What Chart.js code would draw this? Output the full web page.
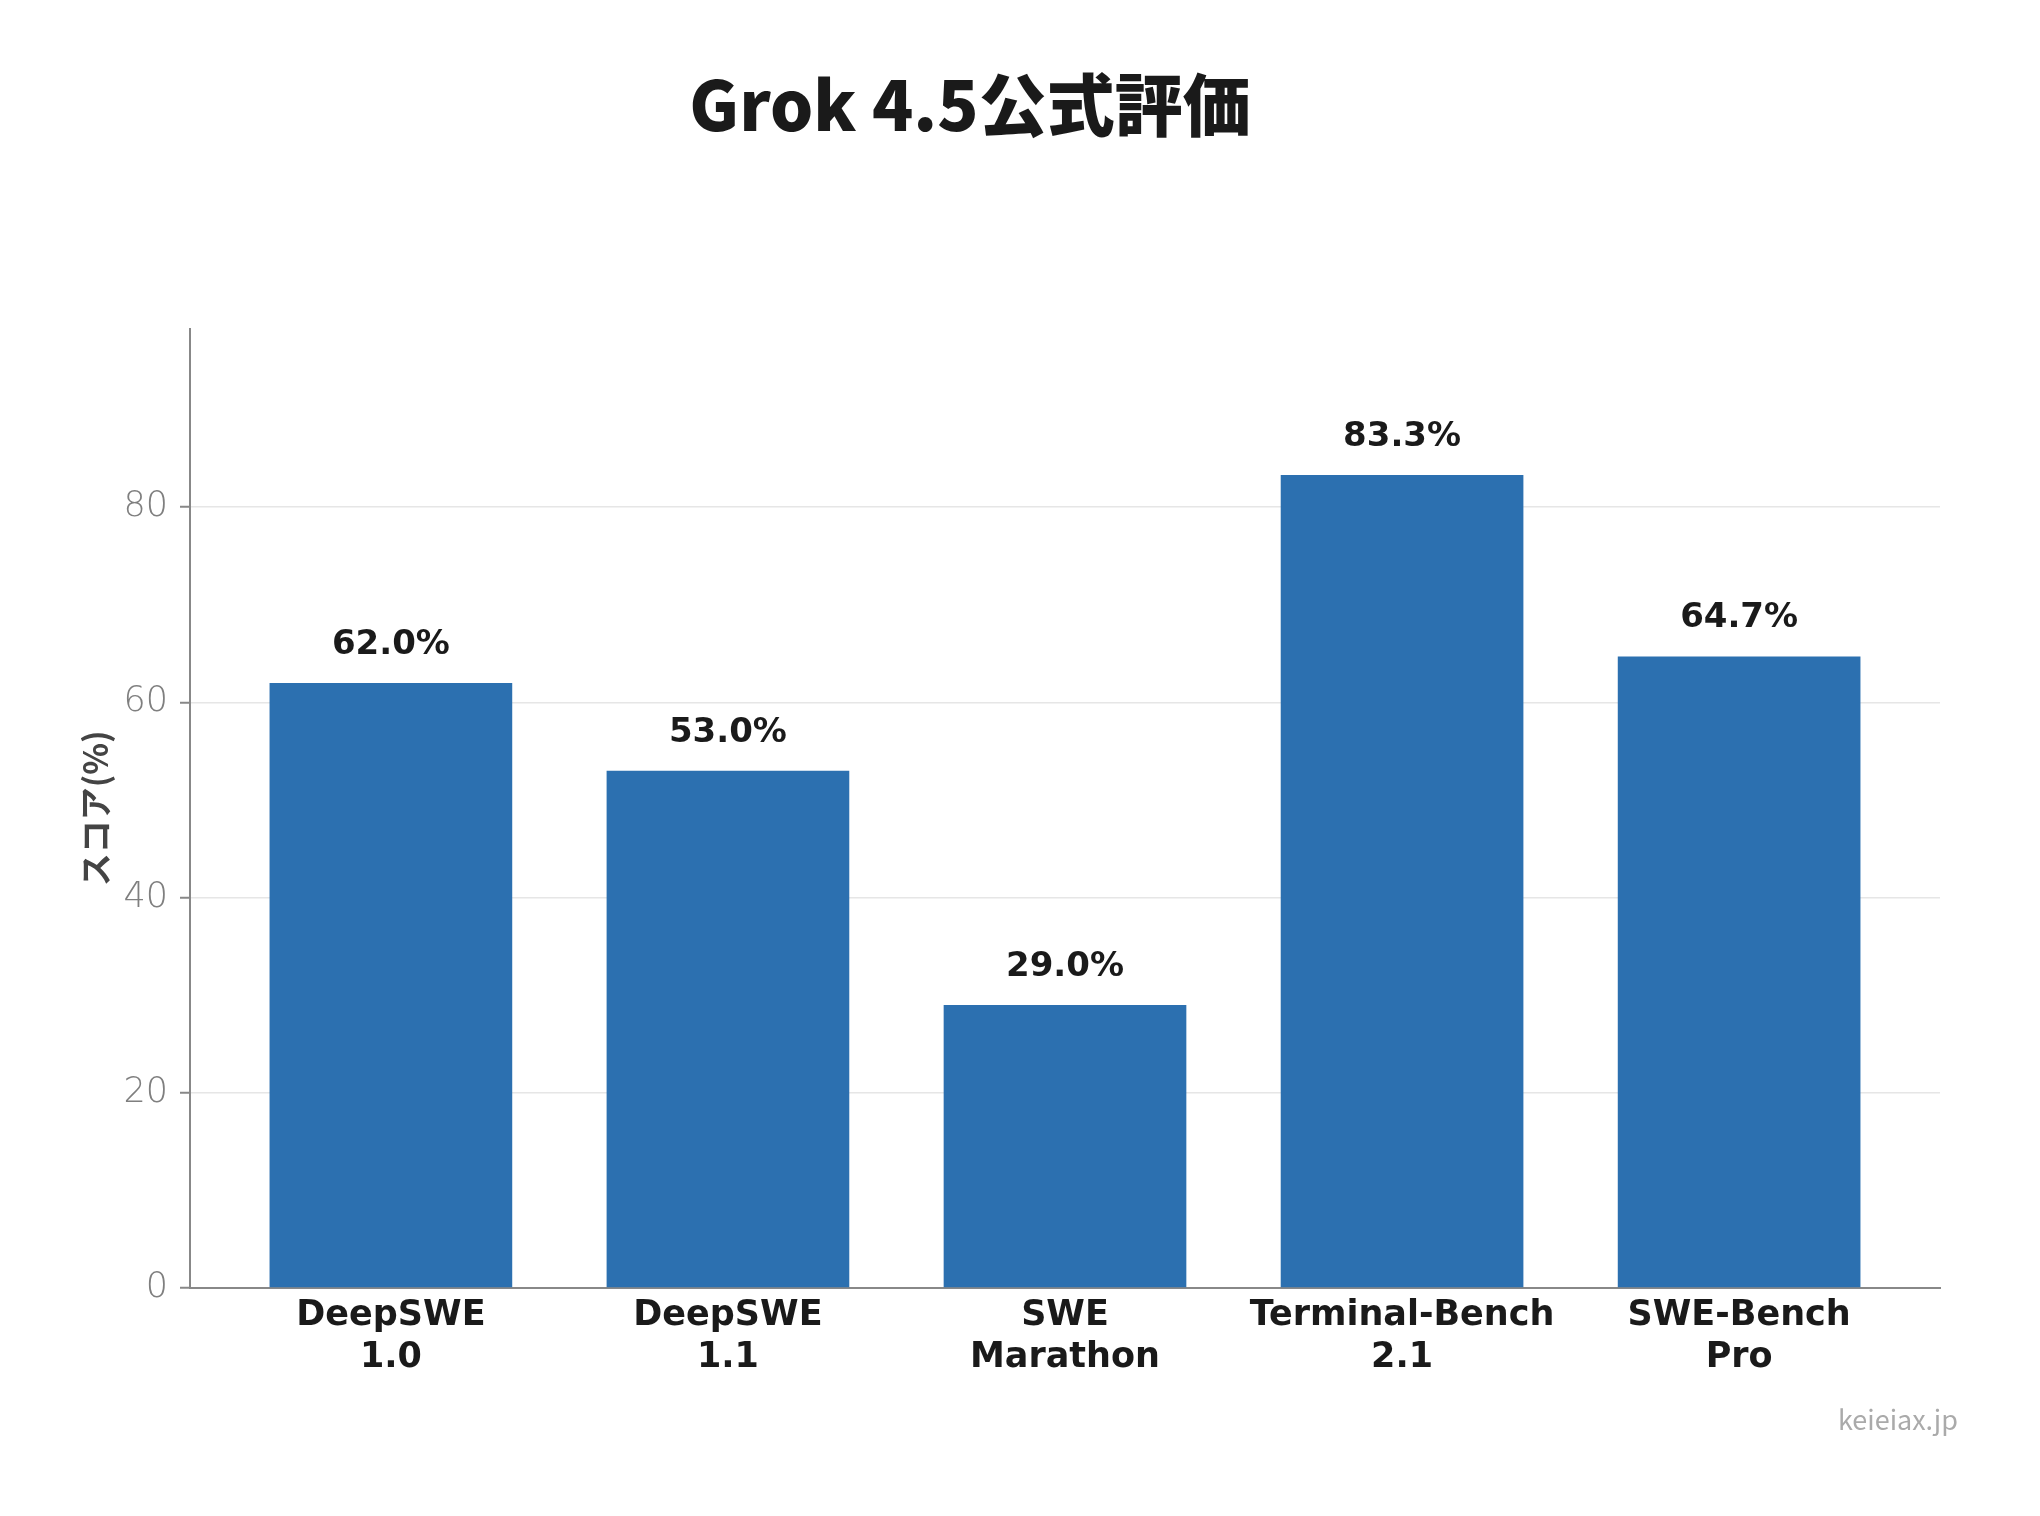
<!DOCTYPE html>
<html lang="ja">
<head>
    <meta charset="UTF-8">
    <title>Grok 4.5公式評価</title>
    <script src="https://cdn.jsdelivr.net/npm/chart.js"></script>
    <style>
        html, body { margin: 0; padding: 0; background: #fff; }
        #wrap { width: 2040px; height: 1516px; }
    </style>
</head>
<body>
    <div id="wrap">
        <canvas id="scoreChart" width="2040" height="1516"></canvas>
    </div>

    <script>
        const benchmarks = [
            ['DeepSWE', '1.0'],
            ['DeepSWE', '1.1'],
            ['SWE', 'Marathon'],
            ['Terminal-Bench', '2.1'],
            ['SWE-Bench', 'Pro']
        ];
        const scores = [62.0, 53.0, 29.0, 83.3, 64.7];
        const yTicks = [0, 20, 40, 60, 80];

        const FONT = '"Noto Sans CJK JP", "Noto Sans", sans-serif';
        const LATIN = '"DejaVu Sans", "Noto Sans CJK JP", sans-serif';

        // value labels above each bar
        const valueLabels = {
            id: 'valueLabels',
            afterDatasetsDraw(chart) {
                const ctx = chart.ctx;
                const meta = chart.getDatasetMeta(0);
                ctx.save();
                ctx.font = 'bold 34px ' + LATIN;
                ctx.fillStyle = '#1a1a1a';
                ctx.textAlign = 'center';
                ctx.textBaseline = 'middle';
                meta.data.forEach((bar, i) => {
                    ctx.fillText(scores[i].toFixed(1) + '%', bar.x, bar.y - 38);
                });
                ctx.restore();
            }
        };

        const watermark = {
            id: 'watermark',
            afterDraw(chart) {
                const ctx = chart.ctx;
                ctx.save();
                ctx.font = '27px ' + FONT;
                ctx.fillStyle = '#aaaaaa';
                ctx.textAlign = 'right';
                ctx.textBaseline = 'middle';
                ctx.fillText('keieiax.jp', 1958, 1420);
                ctx.restore();
            }
        };

        new Chart(document.getElementById('scoreChart'), {
            type: 'bar',
            data: {
                datasets: [{
                    data: scores.map((v, i) => ({ x: i, y: v })),
                    backgroundColor: '#2c70b0',
                    borderWidth: 0,
                    barPercentage: 0.72,
                    categoryPercentage: 1.0
                }]
            },
            options: {
                responsive: false,
                animation: false,
                layout: { padding: { left: 0, right: 100, top: 0, bottom: 0 } },
                plugins: {
                    legend: { display: false },
                    tooltip: { enabled: false },
                    title: {
                        display: true,
                        text: 'Grok 4.5公式評価',
                        color: '#1a1a1a',
                        font: { family: FONT, size: 68, weight: '900', lineHeight: 1.2 },
                        padding: { top: 64, bottom: 183 }
                    }
                },
                scales: {
                    x: {
                        type: 'linear',
                        offset: false,
                        min: -0.596,
                        max: 4.596,
                        afterBuildTicks(scale) {
                            scale.ticks = benchmarks.map((_, i) => ({ value: i }));
                        },
                        afterFit(scale) { scale.height = 228; },
                        ticks: {
                            autoSkip: false,
                            maxRotation: 0,
                            padding: 7,
                            color: '#1a1a1a',
                            font: { family: LATIN, size: 35, weight: 'bold', lineHeight: 1.2 },
                            callback: (v) => benchmarks[v]
                        },
                        grid: { display: false, drawTicks: false, offset: false },
                        border: { display: true, color: '#888888', width: 2 }
                    },
                    y: {
                        min: 0,
                        max: 98.3,
                        afterBuildTicks(scale) {
                            scale.ticks = yTicks.map(v => ({ value: v }));
                        },
                        afterFit(scale) { scale.width = 190; },
                        ticks: {
                            padding: 12,
                            color: '#7f7f7f',
                            font: { family: LATIN, size: 35, weight: '200' }
                        },
                        grid: {
                            color: '#e6e6e6',
                            lineWidth: 1.5,
                            tickColor: '#888888',
                            tickLength: 10,
                            tickWidth: 2
                        },
                        border: { display: true, color: '#888888', width: 2 },
                        title: {
                            display: true,
                            text: 'スコア(%)',
                            color: '#444444',
                            font: { family: FONT, size: 33, weight: 'bold', lineHeight: 1.2 },
                            padding: { top: 76, bottom: 0 }
                        }
                    }
                }
            },
            plugins: [valueLabels, watermark]
        });
    </script>
</body>
</html>
